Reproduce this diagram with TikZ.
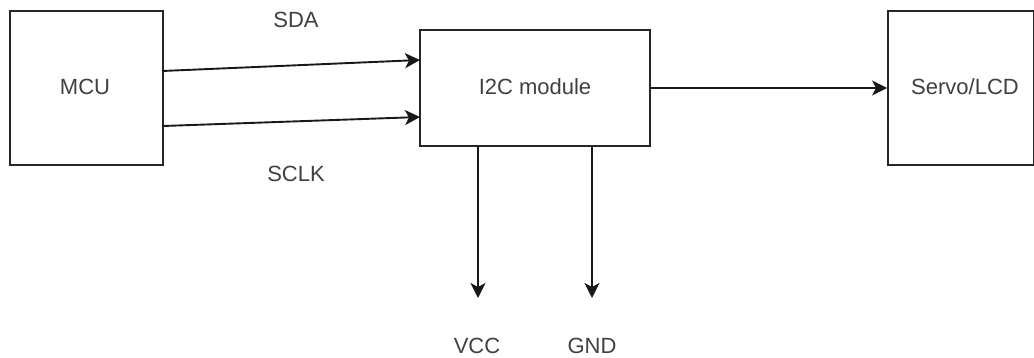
\documentclass[tikz,border=0pt]{standalone}
\usepackage{fontspec}
\setmainfont{Liberation Sans}
\usetikzlibrary{arrows.meta}
\begin{document}
\begin{tikzpicture}[x=1pt,y=-1pt,
  box/.style={draw=black!85, line width=1.9pt, fill=white, inner sep=0pt},
  lbl/.style={text=black!75, font=\fontsize{22}{26}\selectfont, inner sep=0pt},
  conn/.style={draw=black!90, line width=1.9pt, -{Stealth[length=15pt,width=15pt,inset=4pt]}}]
\useasboundingbox (0,0) rectangle (1034,357);
\node[box, minimum width=153pt, minimum height=154pt] (mcu) at (86.5,88) {};
\node[lbl] (mcut) at (85,87) {MCU};
\node[box, minimum width=230pt, minimum height=116pt] (i2c) at (535,88) {};
\node[lbl] (i2ct) at (535,87) {I2C module};
\node[box, minimum width=146pt, minimum height=154pt] (srv) at (961,88) {};
\node[lbl] (srvt) at (965,87) {Servo/LCD};
\coordinate (s1) at (162,71);
\coordinate (e1) at (420,60);
\coordinate (s2) at (163,126);
\coordinate (e2) at (420,117);
\draw[conn] (s1) -- (e1);
\draw[conn] (s2) -- (e2);
\draw[conn] (i2c.east) -- (srv.west);
\coordinate (v0) at (478,146);
\coordinate (v1) at (478,298);
\coordinate (g0) at (592,146);
\coordinate (g1) at (592,298);
\draw[conn] (v0) -- (v1);
\draw[conn] (g0) -- (g1);
\node[lbl] (sda) at (296,20) {SDA};
\node[lbl] (sclk) at (296,174) {SCLK};
\node[lbl] (vcc) at (477,346) {VCC};
\node[lbl] (gnd) at (592,346) {GND};
\end{tikzpicture}
\end{document}
